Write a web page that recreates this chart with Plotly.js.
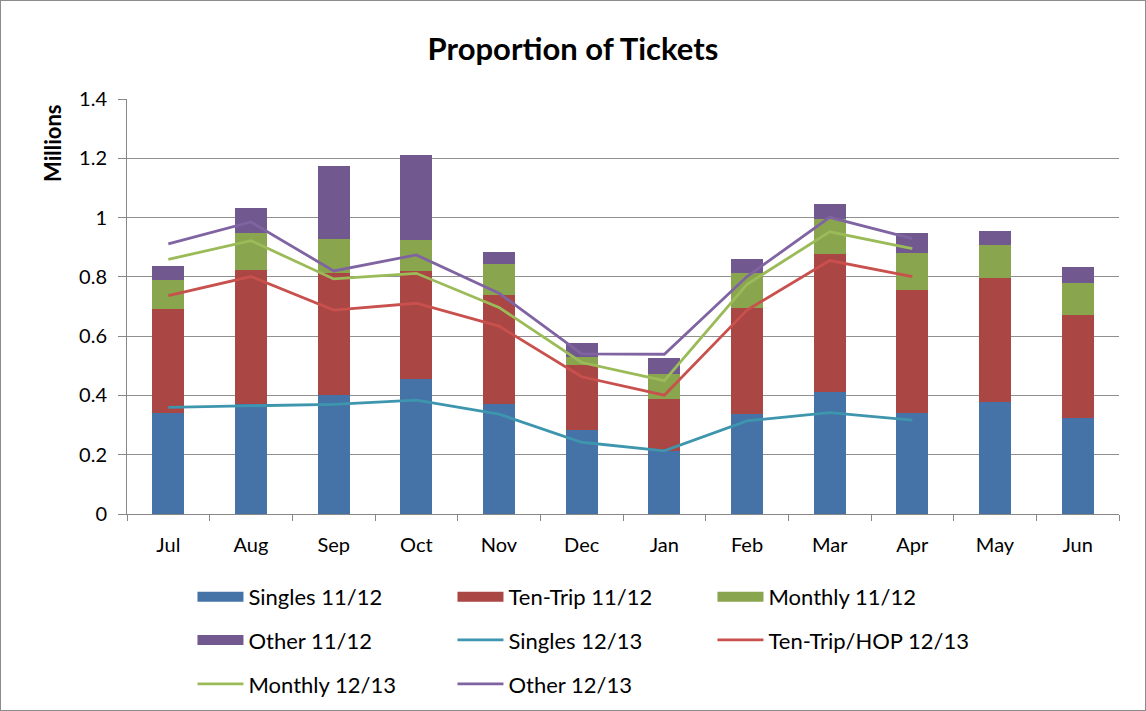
<!DOCTYPE html>
<html>
<head>
<meta charset="utf-8">
<script src="https://cdn.plot.ly/plotly-3.0.1.min.js"></script>
<style>
  html, body { margin: 0; padding: 0; background: #fff; }
  #chart { width: 1144px; height: 709px; border: 1px solid #8c8c8c; }
</style>
</head>
<body>
<div id="chart"></div>
<script>
// Categories
const months = ["Jul","Aug","Sep","Oct","Nov","Dec","Jan","Feb","Mar","Apr","May","Jun"];
const months1213 = ["Jul","Aug","Sep","Oct","Nov","Dec","Jan","Feb","Mar","Apr"];

// 2011/12 (stacked columns), millions
const singles1112 = [0.342,0.371,0.400,0.457,0.370,0.283,0.213,0.338,0.413,0.342,0.378,0.323];
const tenTrip1112 = [0.350,0.451,0.414,0.362,0.369,0.220,0.176,0.358,0.464,0.414,0.417,0.350];
const monthly1112 = [0.099,0.125,0.114,0.104,0.103,0.028,0.083,0.118,0.118,0.125,0.114,0.106];
const other1112   = [0.047,0.084,0.247,0.288,0.043,0.047,0.055,0.047,0.051,0.066,0.047,0.054];

// 2012/13 (stacked lines), millions
const singles1213 = [0.360,0.365,0.370,0.384,0.337,0.242,0.213,0.314,0.342,0.317];
const tenTrip1213 = [0.377,0.436,0.318,0.327,0.297,0.221,0.188,0.374,0.513,0.484];
const monthly1213 = [0.122,0.121,0.105,0.101,0.063,0.048,0.049,0.087,0.097,0.094];
const other1213   = [0.052,0.063,0.027,0.062,0.048,0.029,0.089,0.026,0.049,0.034];

const yTicks = [0,0.2,0.4,0.6,0.8,1,1.2,1.4];
const yTickText = ["0","0.2","0.4","0.6","0.8","1","1.2","1.4"];

const FONT = "Lato, 'Open Sans', 'Liberation Sans', sans-serif";

function bar(name, y, color) {
  return {type: "bar", name: name, x: months, y: y, showlegend: false,
    marker: {color: color, line: {width: 0}}};
}
// legend key for a column series: a trace with no drawable value, shown only as a wide swatch
function barKey(name, color, legend) {
  return {type: "scatter", mode: "lines", name: name, x: [months[0]], y: [null], legend: legend,
    line: {color: color, width: 11}};
}
function line(name, y, color, legend) {
  return {type: "scatter", mode: "lines", name: name, x: months1213, y: y,
    stackgroup: "y1213", fill: "none", legend: legend,
    line: {color: color, width: 2.8}};
}

const data = [
  bar("Singles 11/12", singles1112, "#4572A7"),
  bar("Ten-Trip 11/12", tenTrip1112, "#AA4643"),
  bar("Monthly 11/12", monthly1112, "#89A54E"),
  bar("Other 11/12", other1112, "#71588F"),
  barKey("Singles 11/12", "#4572A7", "legend"),
  barKey("Ten-Trip 11/12", "#AA4643", "legend"),
  barKey("Monthly 11/12", "#89A54E", "legend"),
  barKey("Other 11/12", "#71588F", "legend2"),
  line("Singles 12/13", singles1213, "#3D96AE", "legend2"),
  line("Ten-Trip/HOP 12/13", tenTrip1213, "#C8504D", "legend2"),
  line("Monthly 12/13", monthly1213, "#9BBB59", "legend3"),
  line("Other 12/13", other1213, "#8064A2", "legend3")
];

function legendAt(y) {
  return {orientation: "h", x: 0.066, xanchor: "left", y: y, yanchor: "middle",
    itemwidth: 46, entrywidth: 199, entrywidthmode: "pixels", traceorder: "normal",
    font: {family: FONT, size: 22, color: "#000"}, bgcolor: "rgba(0,0,0,0)"};
}

const layout = {
  width: 1144, height: 709,
  margin: {l: 126, r: 26, t: 98, b: 196, autoexpand: false},
  paper_bgcolor: "#fff", plot_bgcolor: "#fff",
  font: {family: FONT, color: "#000"},
  barmode: "stack", bargap: 0.61,
  title: {text: "<b>Proportion of Tickets</b>", x: 0.5, xanchor: "center",
    y: 0.932, yanchor: "middle", font: {family: FONT, size: 31, color: "#000"}},
  xaxis: {type: "category", categoryorder: "array", categoryarray: months,
    range: [-0.5, 11.5], showgrid: false, showline: true, linecolor: "#878787",
    linewidth: 1, ticks: "outside", tickson: "boundaries", ticklen: 6,
    ticklabelstandoff: 13,
    tickcolor: "#878787", tickfont: {family: FONT, size: 20, color: "#000"}, zeroline: false},
  yaxis: {range: [0, 1.4], tickvals: yTicks, ticktext: yTickText,
    showgrid: true, gridcolor: "#8f8f8f", gridwidth: 1,
    showline: true, linecolor: "#878787", linewidth: 1,
    ticks: "outside", ticklen: 8, tickcolor: "#878787", zeroline: false,
    ticklabelstandoff: 7,
    tickfont: {family: FONT, size: 20, color: "#000"}},
  annotations: [{text: "<b>Millions</b>", textangle: -90, xref: "paper", yref: "paper",
    x: -0.0746, y: 0.894, xanchor: "center", yanchor: "middle", showarrow: false,
    font: {family: FONT, size: 22, color: "#000"}}],
  legend: legendAt(-0.2),
  legend2: legendAt(-0.304),
  legend3: legendAt(-0.41),
  showlegend: true
};

Plotly.newPlot("chart", data, layout, {displayModeBar: false, staticPlot: true});
</script>
</body>
</html>
